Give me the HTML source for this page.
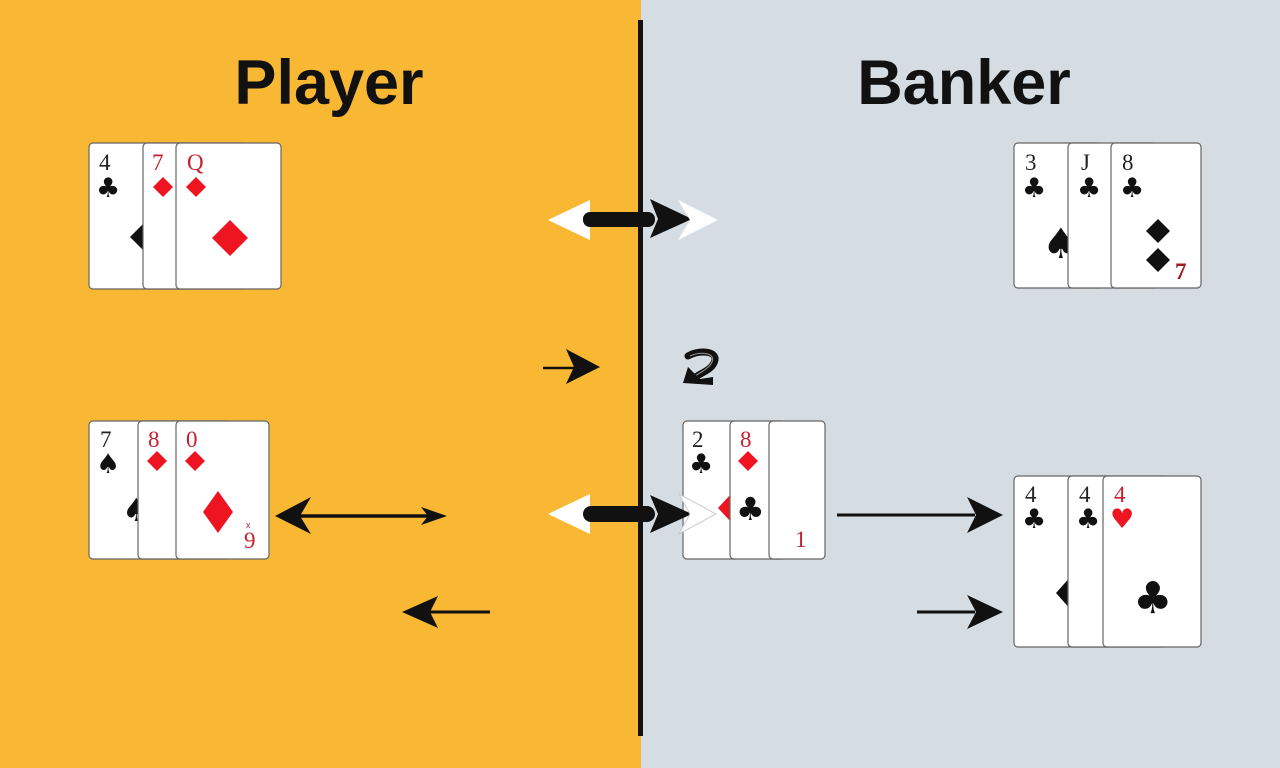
<!DOCTYPE html>
<html><head><meta charset="utf-8"><style>
html,body{margin:0;padding:0;width:1280px;height:768px;overflow:hidden;}
svg{display:block;}
.r{font-family:"Liberation Serif","DejaVu Serif",serif;font-size:23px;}
.s{font-family:"DejaVu Sans","Liberation Sans",sans-serif;}
</style></head><body>
<svg width="1280" height="768" viewBox="0 0 1280 768" xmlns="http://www.w3.org/2000/svg">
<rect x="0" y="0" width="641" height="768" fill="#F9B834"/>
<rect x="641" y="0" width="639" height="768" fill="#D5DDE2"/>
<rect x="638" y="20" width="5" height="716" fill="#111"/>

<text x="329" y="104" text-anchor="middle" font-family="Liberation Sans, sans-serif" font-weight="bold" font-size="63" fill="#111">Player</text>
<text x="964" y="104" text-anchor="middle" font-family="Liberation Sans, sans-serif" font-weight="bold" font-size="63" fill="#111">Banker</text>

<!-- Player top group -->
<rect x="89" y="143" width="105" height="146" rx="4" fill="#fff" stroke="#666" stroke-width="1.2"/>
<text x="99" y="170" class="r" fill="#222">4</text>
<text x="96" y="197" class="s" font-size="27" fill="#111">♣</text>
<polygon points="130,237 147,220 164,237 147,254" fill="#111"/>
<rect x="143" y="143" width="105" height="146" rx="4" fill="#fff" stroke="#666" stroke-width="1.2"/>
<text x="152" y="170" class="r" fill="#c42030">7</text>
<polygon points="153,187 163,177 173,187 163,197" fill="#ee1520"/>
<rect x="176" y="143" width="105" height="146" rx="4" fill="#fff" stroke="#666" stroke-width="1.2"/>
<text x="187" y="170" class="r" fill="#c42030">Q</text>
<polygon points="186,187 196,177 206,187 196,197" fill="#ee1520"/>
<polygon points="212,238 230,220 248,238 230,256" fill="#ee1520"/>

<!-- Banker top group -->
<rect x="1014" y="143" width="90" height="145" rx="4" fill="#fff" stroke="#666" stroke-width="1.2"/>
<text x="1025" y="170" class="r" fill="#222">3</text>
<text x="1022" y="197" class="s" font-size="27" fill="#111">♣</text>
<text x="1042" y="258" class="s" font-size="42" fill="#111">♠</text>
<rect x="1068" y="143" width="90" height="145" rx="4" fill="#fff" stroke="#666" stroke-width="1.2"/>
<text x="1081" y="170" class="r" fill="#222">J</text>
<text x="1077" y="197" class="s" font-size="27" fill="#111">♣</text>
<rect x="1111" y="143" width="90" height="145" rx="4" fill="#fff" stroke="#666" stroke-width="1.2"/>
<text x="1122" y="170" class="r" fill="#222">8</text>
<text x="1120" y="197" class="s" font-size="27" fill="#111">♣</text>
<polygon points="1146,231 1158,219 1170,231 1158,243" fill="#111"/>
<polygon points="1146,260 1158,248 1170,260 1158,272" fill="#111"/>
<text x="1175" y="279" class="r" font-size="24" font-weight="bold" fill="#a01820">7</text>

<!-- Player bottom group -->
<rect x="89" y="421" width="93" height="138" rx="4" fill="#fff" stroke="#666" stroke-width="1.2"/>
<text x="100" y="447" class="r" fill="#222">7</text>
<text x="96" y="473" class="s" font-size="27" fill="#111">♠</text>
<text x="122" y="521" class="s" font-size="32" fill="#111">♠</text>
<rect x="138" y="421" width="93" height="138" rx="4" fill="#fff" stroke="#666" stroke-width="1.2"/>
<text x="148" y="447" class="r" fill="#c42030">8</text>
<polygon points="147,461 157,451 167,461 157,471" fill="#ee1520"/>
<rect x="176" y="421" width="93" height="138" rx="4" fill="#fff" stroke="#666" stroke-width="1.2"/>
<text x="186" y="447" class="r" fill="#c42030">0</text>
<polygon points="185,461 195,451 205,461 195,471" fill="#ee1520"/>
<polygon points="203,512 218,491 233,512 218,533" fill="#ee1520"/>
<text x="246" y="528" font-family="Liberation Sans, sans-serif" font-size="9" fill="#c42030">x</text>
<text x="244" y="548" class="r" fill="#c42030">9</text>

<!-- Player bottom double arrow -->
<line x1="300" y1="516" x2="430" y2="516" stroke="#111" stroke-width="3.5"/>
<polygon points="275,516 311,497 300,516 311,534" fill="#111"/>
<polygon points="447,516 421,507 428,516 421,525" fill="#111"/>

<!-- Banker mid group -->
<rect x="683" y="421" width="56" height="138" rx="4" fill="#fff" stroke="#666" stroke-width="1.2"/>
<text x="692" y="447" class="r" fill="#222">2</text>
<text x="689" y="473" class="s" font-size="27" fill="#111">♣</text>
<polygon points="718,508 731,494 744,508 731,522" fill="#ee1520"/>
<rect x="730" y="421" width="56" height="138" rx="4" fill="#fff" stroke="#666" stroke-width="1.2"/>
<text x="740" y="447" class="r" fill="#c42030">8</text>
<polygon points="738,461 748,451 758,461 748,471" fill="#ee1520"/>
<text x="736" y="520" class="s" font-size="32" fill="#111">♣</text>
<rect x="769" y="421" width="56" height="138" rx="4" fill="#fff" stroke="#666" stroke-width="1.2"/>
<text x="795" y="547" class="r" fill="#c42030">1</text>

<!-- Banker bottom group -->
<rect x="1014" y="476" width="98" height="171" rx="4" fill="#fff" stroke="#666" stroke-width="1.2"/>
<text x="1025" y="502" class="r" fill="#222">4</text>
<text x="1022" y="528" class="s" font-size="27" fill="#111">♣</text>
<polygon points="1056,593 1072,575 1088,593 1072,611" fill="#111"/>
<rect x="1068" y="476" width="98" height="171" rx="4" fill="#fff" stroke="#666" stroke-width="1.2"/>
<text x="1079" y="502" class="r" fill="#222">4</text>
<text x="1076" y="528" class="s" font-size="27" fill="#111">♣</text>
<rect x="1103" y="476" width="98" height="171" rx="4" fill="#fff" stroke="#666" stroke-width="1.2"/>
<text x="1114" y="502" class="r" fill="#c42030">4</text>
<text x="1110" y="528" class="s" font-size="27" fill="#ee1520">♥</text>
<text x="1133" y="613" class="s" font-size="44" fill="#111">♣</text>

<!-- Top big arrow -->
<polygon points="548,220 590,200 590,240" fill="#fff"/>
<rect x="583" y="212" width="72" height="15" rx="7" fill="#111"/>
<polygon points="692,219 650,199 658,219 650,238" fill="#111"/>
<polygon points="718,220 678,200 690,220 678,240" fill="#fff"/>

<!-- Middle big arrow -->
<polygon points="548,514 590,494 590,534" fill="#fff"/>
<rect x="583" y="506" width="72" height="16" rx="8" fill="#111"/>
<polygon points="692,514 650,495 658,514 650,533" fill="#111"/>
<polygon points="716,514 679,494 690,514 679,534" fill="#fff" stroke="#ccc" stroke-width="1"/>

<!-- small middle-left arrow -->
<line x1="543" y1="368" x2="578" y2="368" stroke="#111" stroke-width="2.5"/>
<polygon points="600,367 566,349 574,367 566,384" fill="#111"/>

<!-- squiggle -->
<path d="M688,356 C700,349 720,351 714,363 C710,371 700,373 693,379" fill="none" stroke="#111" stroke-width="7" stroke-linecap="round"/>
<path d="M690,356 C701,351 716,353 712,362 C709,369 700,372 694,377" fill="none" stroke="#999" stroke-width="1"/>
<polygon points="683,383 688,367 700,379 713,377 713,385" fill="#111"/>

<!-- right arrows (banker) -->
<line x1="837" y1="515" x2="975" y2="515" stroke="#111" stroke-width="3"/>
<polygon points="1003,515 967,497 976,515 967,533" fill="#111"/>
<line x1="917" y1="612" x2="975" y2="612" stroke="#111" stroke-width="3"/>
<polygon points="1003,612 967,595 976,612 967,629" fill="#111"/>

<!-- left bottom arrow -->
<line x1="430" y1="612" x2="490" y2="612" stroke="#111" stroke-width="3"/>
<polygon points="402,612 438,596 430,612 438,628" fill="#111"/>
</svg>
</body></html>
